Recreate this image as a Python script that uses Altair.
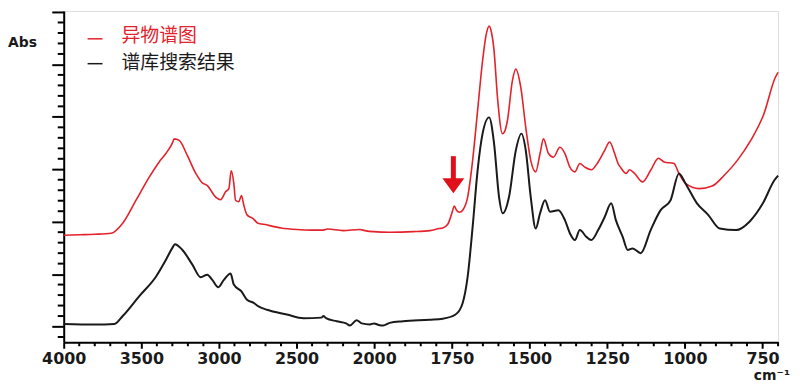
import altair as alt
import pandas as pd

# ---------------- data ----------------
series_names = ["异物谱图", "谱库搜索结果"]
series_colors = ["#e3222b", "#1a1a1a"]

red_wn = [4000, 3900, 3800, 3694, 3620, 3534, 3449, 3385, 3342, 3300, 3288, 3256, 3203, 3149,
          3107, 3075, 3021, 2989, 2957, 2936, 2921, 2904, 2893, 2872, 2855, 2840, 2819, 2780,
          2748, 2712, 2600, 2498, 2400, 2327, 2300, 2200, 2092, 2060, 2006, 1950, 1875, 1820,
          1790, 1779, 1763, 1756, 1748, 1742, 1735, 1725, 1715, 1699, 1683, 1667, 1651, 1640,
          1630, 1622, 1614, 1603, 1587, 1580, 1571, 1555, 1544, 1528, 1512, 1496, 1480, 1466,
          1455, 1439, 1423, 1402, 1386, 1370, 1354, 1338, 1322, 1301, 1279, 1258, 1242, 1226,
          1215, 1205, 1189, 1178, 1162, 1136, 1110, 1085, 1067, 1035, 1019, 998, 954, 912,
          874, 831, 788, 746, 709, 700]
red_abs = [1.74, 1.75, 1.76, 1.78, 1.97, 2.41, 2.85, 3.14, 3.30, 3.50, 3.58, 3.55, 3.26, 2.92,
           2.74, 2.69, 2.47, 2.42, 2.57, 2.63, 2.97, 2.73, 2.41, 2.38, 2.50, 2.32, 2.13, 2.06,
           1.97, 1.95, 1.88, 1.85, 1.84, 1.84, 1.86, 1.83, 1.85, 1.83, 1.81, 1.80, 1.81, 1.83,
           1.87, 1.88, 1.95, 2.05, 2.20, 2.30, 2.22, 2.18, 2.22, 2.47, 3.17, 4.12, 5.07, 5.55,
           5.73, 5.60, 5.26, 4.37, 3.68, 3.72, 3.93, 4.69, 4.91, 4.56, 3.80, 3.17, 2.95, 3.30,
           3.58, 3.30, 3.23, 3.42, 3.30, 3.04, 2.95, 3.11, 3.04, 2.99, 3.14, 3.36, 3.52, 3.30,
           3.11, 3.02, 2.92, 2.99, 2.92, 2.76, 2.98, 3.21, 3.14, 3.11, 2.92, 2.73, 2.63, 2.68,
           2.88, 3.17, 3.55, 4.05, 4.75, 4.85]

black_wn = [4000, 3800, 3673, 3620, 3513, 3406, 3342, 3300, 3284, 3235, 3171, 3117, 3075, 3043,
            3004, 2968, 2925, 2904, 2855, 2819, 2776, 2748, 2690, 2562, 2455, 2340, 2327, 2310,
            2241, 2180, 2156, 2113, 2080, 2027, 2000, 1985, 1971, 1950, 1907, 1822, 1779, 1738,
            1715, 1699, 1683, 1667, 1651, 1630, 1614, 1598, 1586, 1566, 1544, 1526, 1512, 1496,
            1480, 1466, 1450, 1434, 1407, 1386, 1370, 1354, 1338, 1317, 1301, 1279, 1258, 1237,
            1222, 1200, 1184, 1168, 1142, 1110, 1078, 1046, 1019, 998, 961, 925, 888, 835,
            792, 749, 712, 700]
black_abs = [0.05, 0.04, 0.05, 0.20, 0.58, 0.95, 1.27, 1.50, 1.57, 1.46, 1.18, 0.94, 0.99, 0.89,
             0.75, 0.89, 1.01, 0.80, 0.67, 0.51, 0.45, 0.39, 0.32, 0.23, 0.16, 0.17, 0.20, 0.16,
             0.10, 0.06, 0.02, 0.12, 0.06, 0.04, 0.06, 0.03, 0.02, 0.07, 0.10, 0.13, 0.15, 0.23,
             0.45, 0.95, 1.90, 2.98, 3.68, 3.99, 3.49, 2.47, 2.16, 2.47, 3.36, 3.68, 3.36, 2.47,
             1.87, 2.16, 2.41, 2.19, 2.22, 2.03, 1.78, 1.65, 1.84, 1.71, 1.65, 1.84, 2.09, 2.35,
             2.03, 1.71, 1.46, 1.49, 1.40, 1.84, 2.22, 2.41, 2.92, 2.73, 2.35, 2.13, 1.87, 1.84,
             2.00, 2.35, 2.79, 2.88]

# arrow marking the 1745 cm-1 band
arrow_wn = [1745]
arrow_top = [3.25]
arrow_base = [2.80]
arrow_head = [2.685]

x_major = [4000, 3500, 3000, 2500, 2000, 1750, 1500, 1250, 1000, 750]
x_minor = [v for v in list(range(4000, 1999, -100)) + list(range(1950, 699, -50)) if v not in x_major]
y_major = [0, 1, 2, 3, 4, 5, 6]
y_minor = [round(-0.2 + 0.2 * i, 1) for i in range(32) if abs((-0.2 + 0.2 * i) - round(-0.2 + 0.2 * i)) > 0.01]

# ---------------- build ----------------
red_df = pd.DataFrame({"wn": red_wn, "abs": red_abs, "i": range(len(red_wn))})
black_df = pd.DataFrame({"wn": black_wn, "abs": black_abs, "i": range(len(black_wn))})
arrow_df = pd.DataFrame({"wn": arrow_wn, "top": arrow_top, "base": arrow_base, "head": arrow_head})
xminor_df = pd.DataFrame({"wn": x_minor})
yminor_df = pd.DataFrame({"abs": y_minor})

x_enc = alt.X(
    "wn:Q",
    scale=alt.Scale(domain=[4000, 2000, 700], range=[0, 312, 718], zero=False, nice=False),
    axis=alt.Axis(
        values=x_major,
        tickSize=6,
        tickWidth=2,
        tickColor="black",
        domainColor="black",
        domainWidth=2,
        labelFont="DejaVu Sans",
        labelFontSize=16,
        labelFontWeight="bold",
        labelColor="#1a1a1a",
        labelPadding=2,
        labelFlush=False,
        labelOverlap=False,
        grid=False,
        title=None,
        format="d",
    ),
)
y_enc = alt.Y(
    "abs:Q",
    scale=alt.Scale(domain=[-0.3, 6.02], zero=False, nice=False),
    axis=alt.Axis(
        values=y_major,
        labels=False,
        tickSize=12,
        tickWidth=2,
        tickColor="black",
        domainColor="black",
        domainWidth=2,
        grid=False,
        title=None,
    ),
)

red_line = alt.Chart(red_df).mark_line(
    color=series_colors[0], strokeWidth=1.6, interpolate="monotone"
).encode(x=x_enc, y=y_enc, order="i:Q")

black_line = alt.Chart(black_df).mark_line(
    color=series_colors[1], strokeWidth=2, interpolate="monotone"
).encode(x="wn:Q", y="abs:Q", order="i:Q")

x_minor_ticks = alt.Chart(xminor_df).mark_rule(color="black", strokeWidth=2).encode(
    x="wn:Q", y=alt.value(333), y2=alt.value(337)
)
y_minor_ticks = alt.Chart(yminor_df).mark_rule(color="black", strokeWidth=2).encode(
    y="abs:Q", x=alt.value(-6), x2=alt.value(0)
)

arrow_shaft = alt.Chart(arrow_df).mark_rule(color="#e0101a", strokeWidth=5).encode(
    x="wn:Q", y="top:Q", y2="base:Q"
)
arrow_tip = alt.Chart(arrow_df).mark_point(
    shape="M-1,-0.68L1,-0.68L0,0.68Z", filled=True, color="#e0101a", opacity=1, size=484, strokeWidth=0
).encode(x="wn:Q", y="head:Q")

leg_df = pd.DataFrame({"name": series_names, "color": series_colors, "k": [0, 1]})
leg_dash_red = alt.Chart(leg_df.iloc[[0]]).mark_rule(color=series_colors[0], strokeWidth=1.5).encode(
    x=alt.value(24), x2=alt.value(39), y=alt.value(28)
)
leg_dash_black = alt.Chart(leg_df.iloc[[1]]).mark_rule(color=series_colors[1], strokeWidth=1.5).encode(
    x=alt.value(24), x2=alt.value(39), y=alt.value(53)
)
leg_text_red = alt.Chart(leg_df.iloc[[0]]).mark_text(
    align="left", baseline="middle", font="Noto Sans CJK SC", fontSize=19, color=series_colors[0]
).encode(x=alt.value(58), y=alt.value(25), text="name:N")
leg_text_black = alt.Chart(leg_df.iloc[[1]]).mark_text(
    align="left", baseline="middle", font="Noto Sans CJK SC", fontSize=19, color=series_colors[1]
).encode(x=alt.value(58), y=alt.value(52), text="name:N")

abs_label = alt.Chart(leg_df.iloc[[0]]).mark_text(
    align="left", baseline="middle", font="DejaVu Sans", fontSize=14, fontWeight="bold", color="#1a1a1a"
).encode(x=alt.value(-56), y=alt.value(32), text=alt.value("Abs"))
unit_label = alt.Chart(leg_df.iloc[[0]]).mark_text(
    align="right", baseline="middle", font="DejaVu Sans", fontSize=14, fontWeight="bold", color="#1a1a1a"
).encode(x=alt.value(730), y=alt.value(367), text=alt.value("cm⁻¹"))

chart = alt.layer(
    red_line, black_line, x_minor_ticks, y_minor_ticks, arrow_shaft, arrow_tip,
    leg_dash_red, leg_dash_black, leg_text_red, leg_text_black,
    abs_label, unit_label,
).properties(
    width=718,
    height=333,
    autosize=alt.AutoSizeParams(type="none"),
    padding={"left": 56, "top": 2, "right": 14, "bottom": 45},
).configure_view(
    stroke="black", strokeWidth=2
).configure(background="white")

chart.save("out.html", embed_options={"renderer": "svg", "actions": False})
